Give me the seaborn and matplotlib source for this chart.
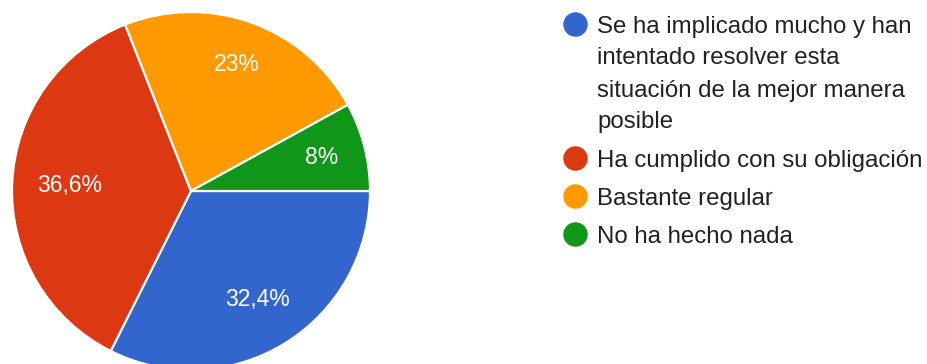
import matplotlib
matplotlib.use("Agg")
import matplotlib.pyplot as plt
from matplotlib.lines import Line2D
import numpy as np
import seaborn as sns

# Survey answers and their shares (%)
categories = [
    "Se ha implicado mucho y han intentado resolver esta situación de la mejor manera posible",
    "Ha cumplido con su obligación",
    "Bastante regular",
    "No ha hecho nada",
]
legend_lines = [
    ["Se ha implicado mucho y han", "intentado resolver esta",
     "situación de la mejor manera", "posible"],
    ["Ha cumplido con su obligación"],
    ["Bastante regular"],
    ["No ha hecho nada"],
]
shares = [32.4, 36.6, 23.0, 8.0]
colors = ["#3366CC", "#DC3912", "#FF9900", "#109618"]
# radial distance of each percentage label (fraction of the radius)
label_radius = [0.71, 0.68, 0.75, 0.755]

sns.set_theme(style="white")
plt.rcParams["font.family"] = ["Liberation Sans", "DejaVu Sans"]

W, H = 928, 364
fig = plt.figure(figsize=(W / 100, H / 100), dpi=100)
fig.patch.set_facecolor("white")

# Pie axes: centre (191, 191) px from top-left, radius 179 px
cx, cy, r = 191, 191, 179
ax = fig.add_axes([(cx - r) / W, (H - cy - r) / H, 2 * r / W, 2 * r / H])
ax.set_facecolor("white")


def fmt_pct(p):
    s = f"{p:.1f}".rstrip("0").rstrip(".")
    return s.replace(".", ",") + "%"


wedges, _, autotexts = ax.pie(
    shares,
    colors=colors,
    startangle=0,
    counterclock=False,
    radius=1.0,
    autopct=fmt_pct,
    pctdistance=0.73,
    wedgeprops=dict(edgecolor="white", linewidth=1.6),
)
for w in wedges:
    w.set_clip_on(False)
for w, t, d in zip(wedges, autotexts, label_radius):
    mid = np.deg2rad((w.theta1 + w.theta2) / 2)
    t.set_position((d * np.cos(mid), d * np.sin(mid)))
    t.set_color("white")
    t.set_fontsize(16.5)
    t.set_fontfamily(["Liberation Sans", "DejaVu Sans"])
ax.set_xlim(-1, 1)
ax.set_ylim(-1, 1)
ax.axis("off")

# Legend drawn entry by entry on the right
marker_x = 575
text_x = 597
y = 24
for lines, color in zip(legend_lines, colors):
    fig.add_artist(Line2D([marker_x / W], [1 - y / H], marker="o",
                          markersize=16.6, markerfacecolor=color,
                          markeredgecolor=color, linestyle="none",
                          transform=fig.transFigure))
    for i, line in enumerate(lines):
        fig.text(text_x / W, 1 - (y + i * 32) / H, line, fontsize=17.3,
                 color="#212121", va="center_baseline", ha="left")
    y += (len(lines) - 1) * 32 + 38

fig.savefig("out.png", dpi=100, facecolor="white")
